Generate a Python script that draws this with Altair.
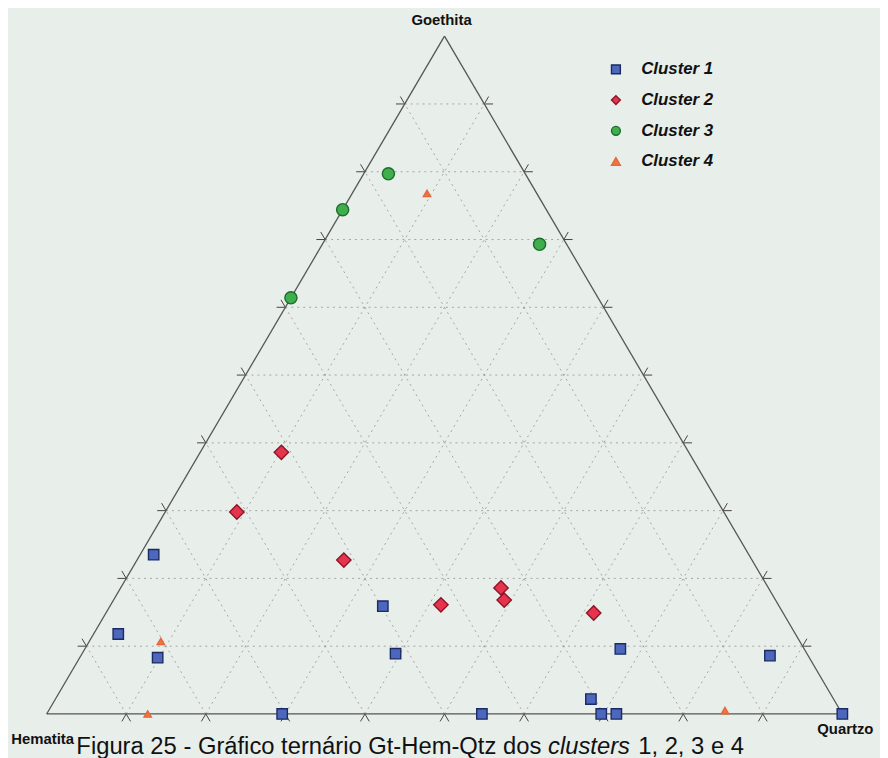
import altair as alt
import pandas as pd

# ---------------- data (percent Goethita / Hematita / Quartzo) ----------------
clusters = ["Cluster 1", "Cluster 2", "Cluster 3", "Cluster 4"]

c1_gt = [23.5, 11.8, 8.3, 15.9, 8.9, 0.0, 0.0, 2.2, 0.0, 0.0, 9.6, 8.6, 0.0]
c1_hem = [74.8, 85.1, 81.9, 49.8, 51.7, 70.4, 45.3, 30.5, 30.3, 28.4, 23.1, 4.8, 0.0]
c1_qtz = [1.7, 3.1, 9.8, 34.3, 39.4, 29.6, 54.7, 67.3, 69.7, 71.6, 67.3, 86.6, 100.0]

c2_gt = [38.6, 29.8, 22.7, 16.1, 18.6, 16.8, 14.9]
c2_hem = [51.2, 61.2, 51.3, 42.4, 33.6, 34.1, 23.8]
c2_qtz = [10.2, 9.0, 26.0, 41.5, 47.8, 49.1, 61.3]

c3_gt = [79.7, 74.4, 61.4, 69.3]
c3_hem = [17.2, 25.6, 38.6, 3.4]
c3_qtz = [3.1, 0.0, 0.0, 27.3]

c4_gt = [76.8, 10.7, 0.0, 0.5]
c4_hem = [13.8, 80.3, 87.3, 14.5]
c4_qtz = [9.4, 9.0, 12.7, 85.0]

grid_ticks = [10, 20, 30, 40, 50, 60, 70, 80, 90]
vertex_names = ["Goethita", "Hematita", "Quartzo"]
caption_parts = ["Figura 25 - Gráfico ternário Gt-Hem-Qtz dos", "clusters", "1, 2, 3 e 4"]

colors = ["#4d67bd", "#e6344c", "#3fae4c", "#f2733e"]
strokes = ["#1b2a62", "#8c1428", "#1d6c2b", "#e4683a"]
shapes = ["square", "diamond", "circle", "triangle-up"]
sizes = [110, 210, 150, 55]

# ---------------- tables ----------------
rows = []
for name, g, h, q in [
    (clusters[0], c1_gt, c1_hem, c1_qtz),
    (clusters[1], c2_gt, c2_hem, c2_qtz),
    (clusters[2], c3_gt, c3_hem, c3_qtz),
    (clusters[3], c4_gt, c4_hem, c4_qtz),
]:
    for a, b, c in zip(g, h, q):
        rows.append({"cluster": name, "Gt": a, "Hem": b, "Qtz": c})
pts = pd.DataFrame(rows)


def cart(gt, qtz):
    # ternary -> cartesian (fractions)
    return qtz + gt / 2.0, gt


segs = []
ticks = []
L = 0.011
for t in grid_ticks:
    k = t / 100.0
    segs.append((*cart(k, 0), *cart(k, 1 - k)))        # constant Goethita
    segs.append((*cart(0, k), *cart(1 - k, k)))        # constant Quartzo
    segs.append((*cart(0, 1 - k), *cart(1 - k, 0)))    # constant Hematita
    bx, by = cart(0, k)
    ticks.append((bx, by, bx - 0.5 * L, by - L))
    ticks.append((bx, by, bx + 0.5 * L, by - L))
    lx, ly = cart(k, 0)
    ticks.append((lx, ly, lx - L, ly))
    ticks.append((lx, ly, lx - 0.5 * L, ly + L))
    rx, ry = cart(k, 1 - k)
    ticks.append((rx, ry, rx + L, ry))
    ticks.append((rx, ry, rx + 0.5 * L, ry + L))

grid = pd.DataFrame(segs, columns=["x", "y", "x2", "y2"])
tickdf = pd.DataFrame(ticks, columns=["x", "y", "x2", "y2"])

vG = cart(1, 0)
vH = cart(0, 0)
vQ = cart(0, 1)
edges = pd.DataFrame(
    [(*vH, *vQ), (*vH, *vG), (*vQ, *vG)], columns=["x", "y", "x2", "y2"]
)

xs = alt.Scale(domain=[0, 1], range=[39, 842], nice=False, zero=False)
ys = alt.Scale(domain=[0, 1], range=[709, 25], nice=False, zero=False)


def seg_layer(df, **mark):
    return alt.Chart(df).mark_rule(**mark).encode(
        x=alt.X("x:Q", scale=xs, axis=None),
        y=alt.Y("y:Q", scale=ys, axis=None),
        x2="x2:Q",
        y2="y2:Q",
    )


grid_layer = seg_layer(grid, color="#8f8f8f", strokeDash=[2, 4], strokeWidth=1, opacity=0.75)
tick_layer = seg_layer(tickdf, color="#444444", strokeWidth=1)
edge_layer = seg_layer(edges, color="#555555", strokeWidth=1.3)

lab_font = "Liberation Sans"

leg = alt.Legend(
    title=None,
    orient="none",
    legendX=605,
    legendY=50,
    padding=0,
    labelFont=lab_font,
    labelFontSize=17,
    labelFontStyle="italic",
    labelFontWeight="bold",
    labelColor="#111111",
    labelOffset=17,
    rowPadding=13,
    symbolSize=80,
    symbolStrokeWidth=1.4,
)

point_layers = []
for name, sz in zip(clusters, sizes):
    point_layers.append(
        alt.Chart(pts)
        .transform_filter(alt.datum.cluster == name)
        .transform_calculate(px="datum.Qtz/100 + datum.Gt/200", py="datum.Gt/100")
        .mark_point(filled=True, opacity=1, strokeWidth=1.4, size=sz)
        .encode(
            x=alt.X("px:Q", scale=xs, axis=None),
            y=alt.Y("py:Q", scale=ys, axis=None),
            fill=alt.Fill("cluster:N", scale=alt.Scale(domain=clusters, range=colors), legend=leg),
            stroke=alt.Stroke("cluster:N", scale=alt.Scale(domain=clusters, range=strokes), legend=leg),
            shape=alt.Shape("cluster:N", scale=alt.Scale(domain=clusters, range=shapes), legend=leg),
        )
    )


def vertex_label(name, v, dx, dy):
    df = pd.DataFrame({"name": [name], "x": [v[0]], "y": [v[1]]})
    return alt.Chart(df).mark_text(
        font=lab_font, fontSize=15, fontWeight="bold", color="#111111", dx=dx, dy=dy
    ).encode(
        x=alt.X("x:Q", scale=xs, axis=None),
        y=alt.Y("y:Q", scale=ys, axis=None),
        text="name:N",
    )


labels = [
    vertex_label(vertex_names[0], vG, -3, -16),
    vertex_label(vertex_names[1], vH, -4, 25),
    vertex_label(vertex_names[2], vQ, 3, 15),
]

cap_x = [69, 545, 636]
cap_style = ["normal", "italic", "normal"]
caption_layers = []
for txt, xx, st in zip(caption_parts, cap_x, cap_style):
    df = pd.DataFrame({"t": [txt]})
    caption_layers.append(
        alt.Chart(df).mark_text(
            font=lab_font, fontSize=24, fontStyle=st, color="#111111",
            align="left", baseline="alphabetic",
        ).encode(x=alt.value(xx), y=alt.value(749), text="t:N")
    )

chart = (
    alt.layer(grid_layer, tick_layer, edge_layer, *point_layers, *labels, *caption_layers)
    .properties(
        width=880,
        height=750,
        padding=0,
        autosize=alt.AutoSizeParams(type="none"),
        background="#e8eeea",
    )
    .configure_view(strokeWidth=0)
)

chart.save("out.html", embed_options={"renderer": "svg", "actions": False})
